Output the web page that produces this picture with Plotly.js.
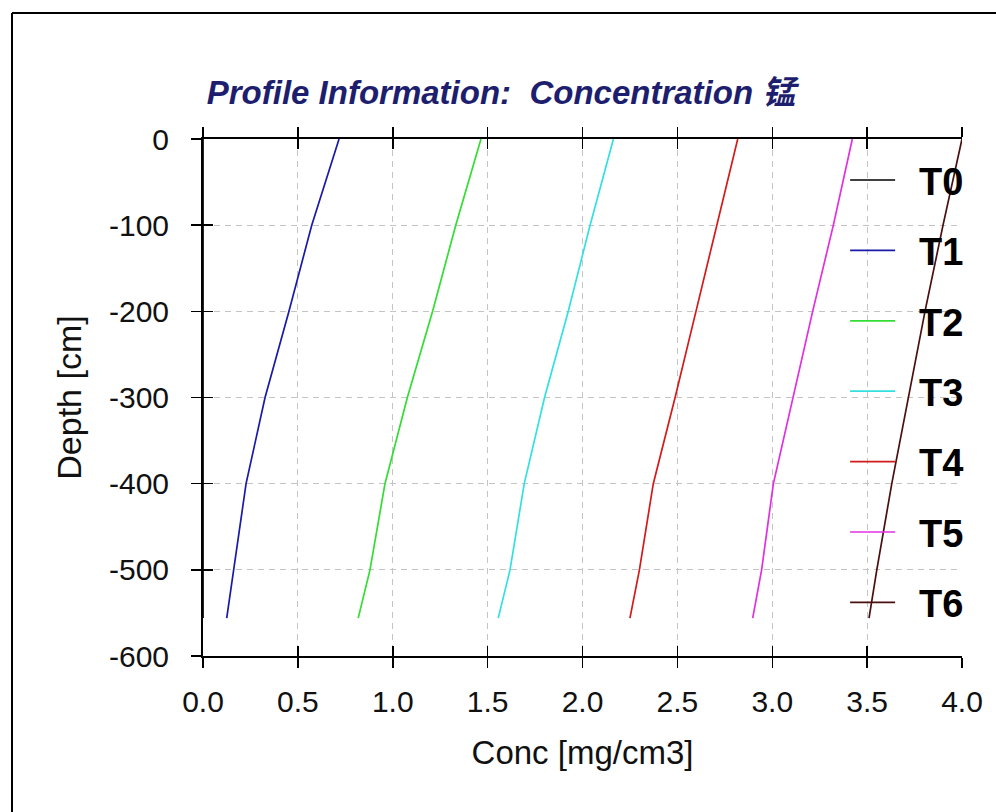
<!DOCTYPE html>
<html>
<head>
<meta charset="utf-8">
<script src="https://cdn.plot.ly/plotly-3.0.1.min.js"></script>
<style>
  html, body { margin: 0; padding: 0; background: #ffffff; }
  #chart { width: 996px; height: 812px; }
</style>
</head>
<body>
<div id="chart"></div>
<script>
// ---- data ----
const depth = [0, -100, -200, -300, -400, -500, -556];
const seriesNames = ["T0", "T1", "T2", "T3", "T4", "T5", "T6"];
const T0 = [0, 0, 0, 0, 0, 0, 0];
const T1 = [0.717, 0.573, 0.453, 0.327, 0.227, 0.160, 0.125];
const T2 = [1.465, 1.332, 1.210, 1.077, 0.959, 0.880, 0.818];
const T3 = [2.163, 2.040, 1.925, 1.800, 1.693, 1.618, 1.556];
const T4 = [2.818, 2.710, 2.598, 2.488, 2.373, 2.300, 2.250];
const T5 = [3.422, 3.322, 3.213, 3.110, 3.006, 2.944, 2.897];
const T6 = [4.000, 3.900, 3.805, 3.717, 3.630, 3.551, 3.510];
const seriesValues = [T0, T1, T2, T3, T4, T5, T6];
const seriesColors = ["#000000", "#1a1aa8", "#33dd33", "#33e0e0", "#d41a1a", "#e030e0", "#4a0f0f"];
const xTickValues = [0, 0.5, 1, 1.5, 2, 2.5, 3, 3.5, 4];
const xTickText = ["0.0", "0.5", "1.0", "1.5", "2.0", "2.5", "3.0", "3.5", "4.0"];
const yTickValues = [0, -100, -200, -300, -400, -500, -600];
const yTickText = ["0", "-100", "-200", "-300", "-400", "-500", "-600"];

const FONT = "'Liberation Sans', Arial, 'Noto Sans CJK SC', sans-serif";

const traces = seriesNames.map((name, i) => ({
  type: "scatter",
  mode: "lines",
  name: "\u2002" + name,
  x: seriesValues[i],
  y: depth,
  legendgroup: name,
  line: { color: seriesColors[i], width: 1.7 },
  hoverinfo: "x+y+name"
}));

// invisible helper traces so the overlay axes (crossing ticks) are drawn
["x2", "x3", "x4"].forEach(ax => traces.push({
  type: "scatter", mode: "lines", x: [], y: [], xaxis: ax, yaxis: "y",
  showlegend: false, hoverinfo: "skip"
}));
traces.push({
  type: "scatter", mode: "lines", x: [], y: [], xaxis: "x", yaxis: "y2",
  showlegend: false, hoverinfo: "skip"
});

const tickCommonX = {
  range: [0, 4], tickmode: "array", tickvals: xTickValues, ticktext: xTickText,
  ticklen: 10, tickwidth: 1.5, tickcolor: "#000", zeroline: false, fixedrange: true
};
const tickCommonY = {
  range: [-600, 0], tickmode: "array", tickvals: yTickValues, ticktext: yTickText,
  ticklen: 10, tickwidth: 1.5, tickcolor: "#000", zeroline: false, fixedrange: true
};

const layout = {
  width: 996, height: 812,
  paper_bgcolor: "#ffffff", plot_bgcolor: "#ffffff",
  margin: { l: 203, r: 34, t: 139, b: 156 },
  font: { family: FONT, color: "#111" },
  title: {
    text: "Profile Information:\u00a0\u00a0Concentration 锰",
    font: { family: FONT, size: 33, weight: "bold", style: "italic", color: "#1e1e6e" },
    xref: "container", x: 0.503, xanchor: "center",
    yref: "container", y: 1 - 92 / 812, yanchor: "middle"
  },
  xaxis: Object.assign({}, tickCommonX, {
    ticks: "outside", showline: true, linecolor: "#000", linewidth: 2,
    showgrid: true, gridcolor: "#c4c4c4", griddash: "6px,5px", gridwidth: 1,
    tickfont: { family: FONT, size: 30, color: "#111" },
    ticklabelstandoff: 8,
    title: { text: "Conc [mg/cm3]", font: { family: FONT, size: 33, color: "#111" }, standoff: 24 }
  }),
  xaxis2: Object.assign({}, tickCommonX, {
    overlaying: "x", anchor: "y", side: "bottom", ticks: "inside",
    showticklabels: false, showgrid: false, showline: false
  }),
  xaxis3: Object.assign({}, tickCommonX, {
    overlaying: "x", anchor: "y", side: "top", ticks: "outside",
    showticklabels: false, showgrid: false, showline: true, linecolor: "#000", linewidth: 2
  }),
  xaxis4: Object.assign({}, tickCommonX, {
    overlaying: "x", anchor: "y", side: "top", ticks: "inside",
    showticklabels: false, showgrid: false, showline: false
  }),
  yaxis: Object.assign({}, tickCommonY, {
    ticks: "outside", showline: true, linecolor: "#000", linewidth: 2,
    showgrid: true, gridcolor: "#c4c4c4", griddash: "6px,5px", gridwidth: 1,
    tickfont: { family: FONT, size: 30, color: "#111" },
    ticklabelstandoff: 16,
    title: { text: "Depth [cm]", font: { family: FONT, size: 34, color: "#111" }, standoff: 17 }
  }),
  yaxis2: Object.assign({}, tickCommonY, {
    overlaying: "y", anchor: "x", side: "left", ticks: "inside",
    showticklabels: false, showgrid: false, showline: false
  }),
  showlegend: true,
  legend: {
    x: 0.846, xanchor: "left", y: 0.981, yanchor: "top",
    bgcolor: "rgba(0,0,0,0)", borderwidth: 0,
    font: { family: FONT, size: 38, weight: "bold", color: "#000" },
    tracegroupgap: 18, itemwidth: 45, traceorder: "grouped"
  },
  shapes: [
    { type: "line", xref: "paper", yref: "paper",
      x0: (12 - 203) / 759, x1: 1.2, y0: (656 - 13) / 517, y1: (656 - 13) / 517,
      line: { color: "#000", width: 2 } },
    { type: "line", xref: "paper", yref: "paper",
      x0: (12 - 203) / 759, x1: (12 - 203) / 759, y0: (656 - 13) / 517, y1: -0.5,
      line: { color: "#000", width: 2 } }
  ]
};

Plotly.newPlot("chart", traces, layout, { displayModeBar: false, staticPlot: true });
</script>
</body>
</html>
